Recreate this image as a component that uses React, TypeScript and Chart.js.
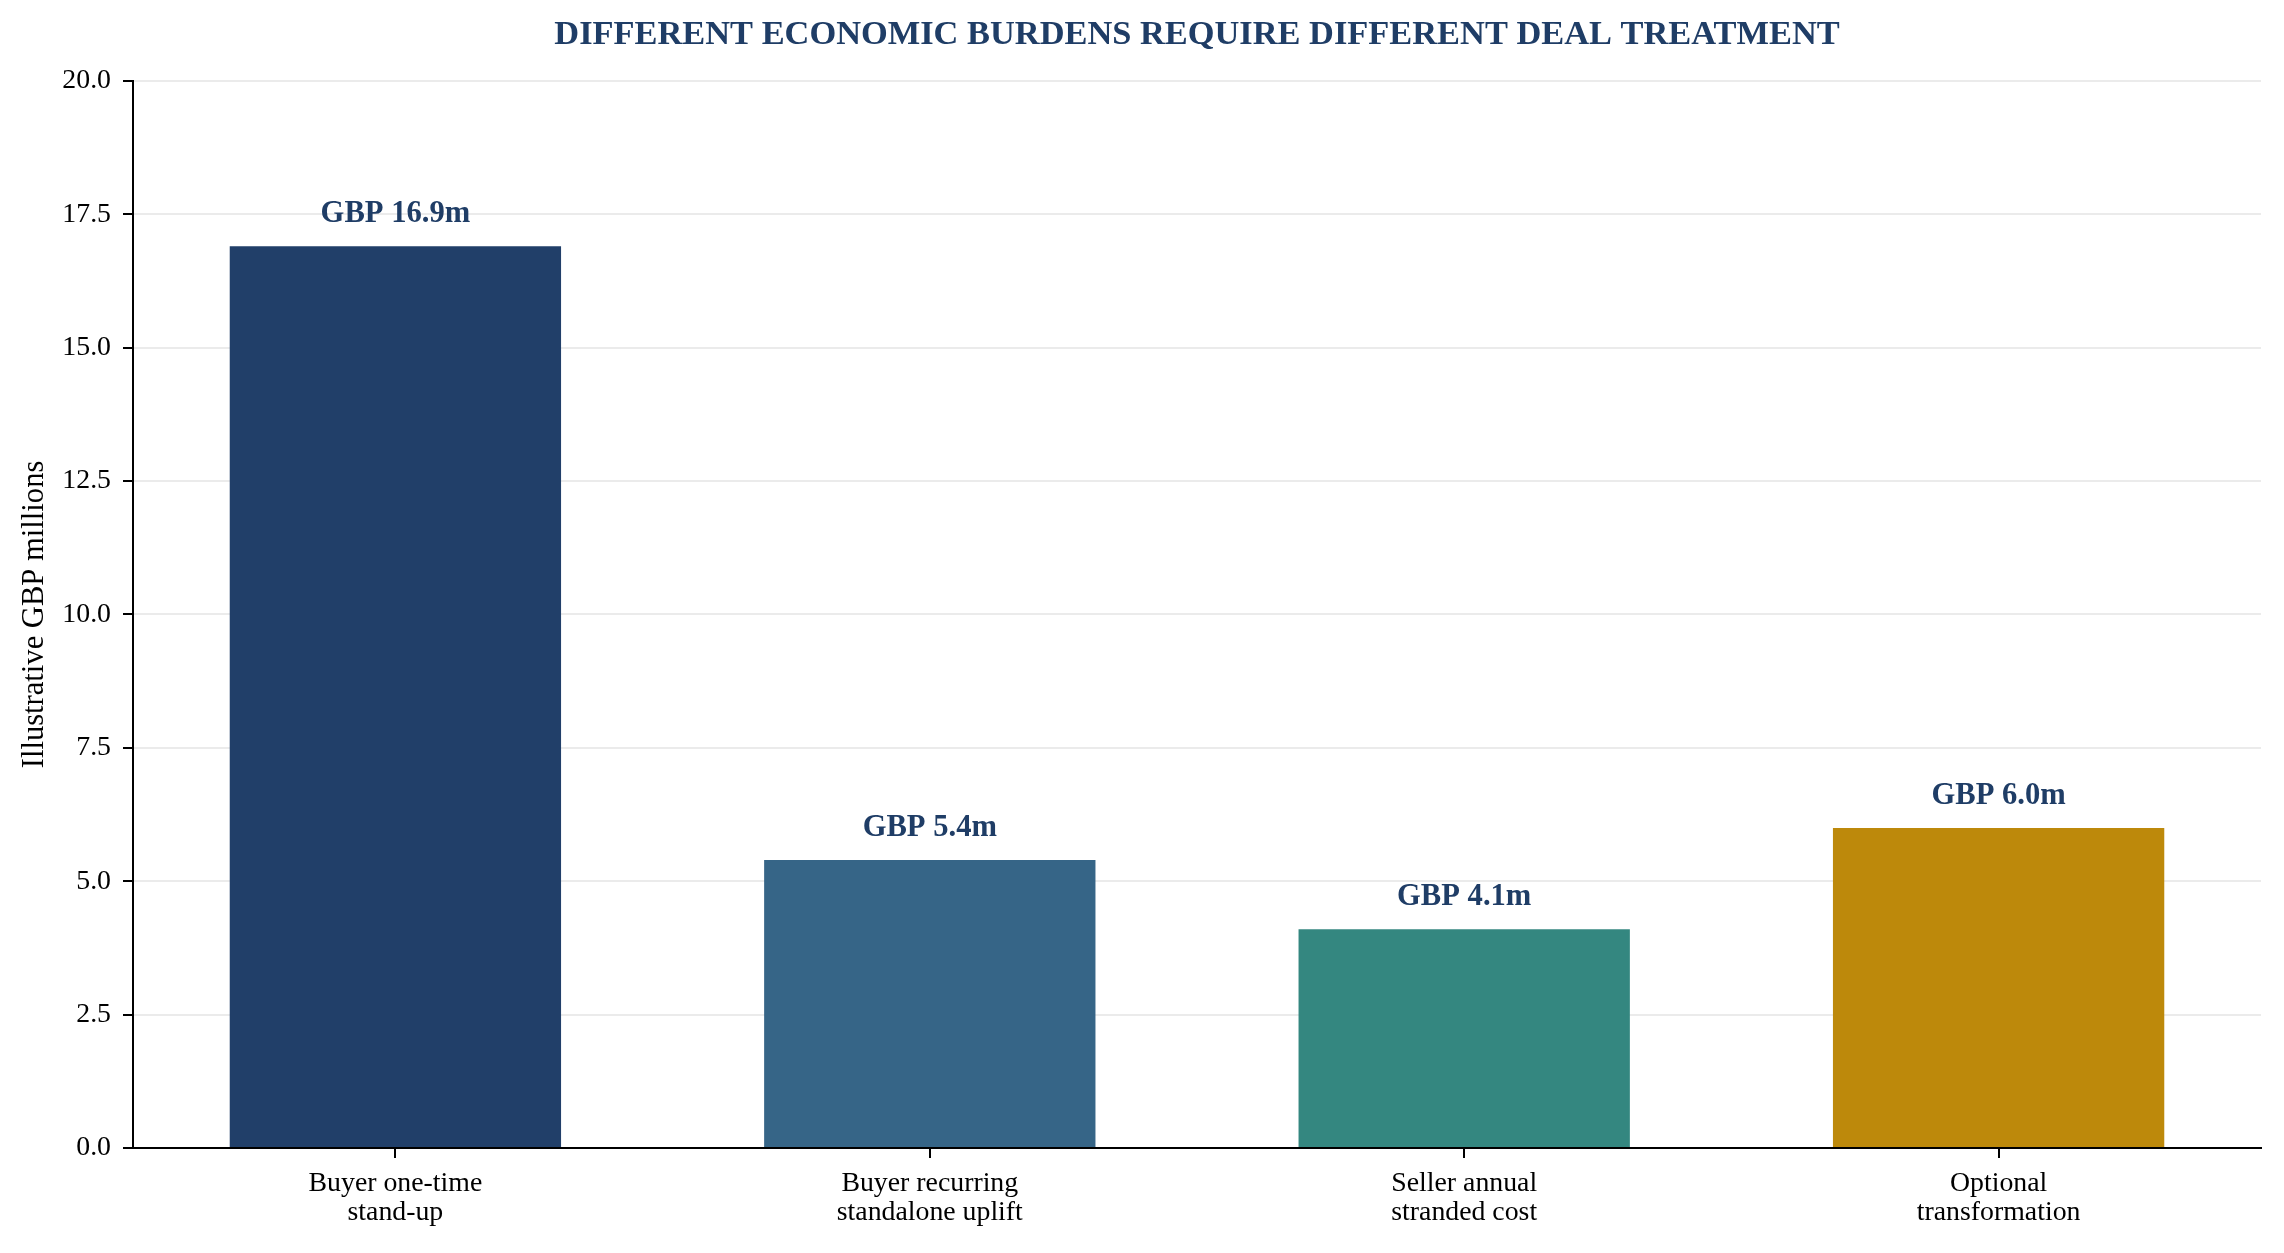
import React, { useEffect, useRef } from "react";
import { Chart, registerables } from "chart.js";

Chart.register(...registerables);

const categories: string[][] = [
  ["Buyer one-time", "stand-up"],
  ["Buyer recurring", "standalone uplift"],
  ["Seller annual", "stranded cost"],
  ["Optional", "transformation"],
];
const values: number[] = [16.9, 5.4, 4.1, 6.0];
const valueLabels: string[] = ["GBP 16.9m", "GBP 5.4m", "GBP 4.1m", "GBP 6.0m"];
const barColors: string[] = ["#213f69", "#366587", "#348780", "#bd890b"];
const yTicks: number[] = [0, 2.5, 5, 7.5, 10, 12.5, 15, 17.5, 20];

const TITLE = "DIFFERENT ECONOMIC BURDENS REQUIRE DIFFERENT DEAL TREATMENT";
const Y_TITLE = "Illustrative GBP millions";
const FONT = "'Liberation Serif', 'Times New Roman', serif";
const NAVY = "#1f3d66";
const BAR_WIDTH = 0.62;
const X_MARGIN = 0.05 * (categories.length - 1 + BAR_WIDTH);

const labelPlugin = {
  id: "valueLabels",
  afterDraw(chart: any) {
    const ctx = chart.ctx;
    const meta = chart.getDatasetMeta(0);
    ctx.save();
    ctx.font = `bold 30.6px ${FONT}`;
    ctx.fillStyle = NAVY;
    ctx.textAlign = "center";
    ctx.textBaseline = "alphabetic";
    meta.data.forEach((bar: any, i: number) => {
      ctx.fillText(valueLabels[i], bar.x, bar.y - 24);
    });
    ctx.restore();
  },
};

export default function App() {
  const ref = useRef<HTMLCanvasElement | null>(null);
  useEffect(() => {
    if (!ref.current) return;
    const chart = new Chart(ref.current, {
      type: "bar",
      data: {
        datasets: [
          {
            data: values.map((v, i) => ({ x: i, y: v })),
            backgroundColor: barColors,
            borderWidth: 0,
            barPercentage: BAR_WIDTH,
            categoryPercentage: 1,
          },
        ],
      },
      options: {
        animation: false,
        responsive: true,
        maintainAspectRatio: false,
        devicePixelRatio: 1,
        layout: { padding: { left: 0, right: 23, top: 0, bottom: 0 } },
        plugins: {
          legend: { display: false },
          tooltip: { enabled: false },
          title: {
            display: true,
            fullSize: false,
            text: TITLE,
            color: NAVY,
            font: { family: FONT, size: 34.4, weight: "bold", lineHeight: 1.2 },
            padding: { top: 14, bottom: 25.7 },
          },
        },
        scales: {
          x: {
            type: "linear",
            min: -0.5 * BAR_WIDTH - X_MARGIN,
            max: categories.length - 1 + 0.5 * BAR_WIDTH + X_MARGIN,
            offset: false,
            z: 2,
            afterBuildTicks(scale: any) {
              scale.ticks = categories.map((_, i) => ({ value: i }));
            },
            grid: {
              display: true,
              offset: false,
              drawOnChartArea: false,
              drawTicks: true,
              tickLength: 10,
              color: "#000",
              lineWidth: 2,
            },
            border: { display: true, color: "#000", width: 2 },
            ticks: {
              color: "#000",
              autoSkip: false,
              maxRotation: 0,
              padding: 11,
              font: { family: FONT, size: 27.8, lineHeight: 1.05 },
              callback: (v: any) => categories[Math.round(Number(v))] ?? "",
            },
            afterFit(scale: any) {
              scale.height = 105;
            },
          },
          y: {
            type: "linear",
            min: 0,
            max: 20,
            z: 1,
            afterBuildTicks(scale: any) {
              scale.ticks = yTicks.map((v) => ({ value: v }));
            },
            grid: {
              color: "rgba(190,190,190,0.3)",
              lineWidth: 2,
              tickColor: "#000",
              tickLength: 10,
              tickWidth: 2,
            },
            border: { display: true, color: "#000", width: 2 },
            ticks: {
              color: "#000",
              padding: 12,
              font: { family: FONT, size: 27.8 },
              callback: (v: any) => Number(v).toFixed(1),
            },
            title: {
              display: true,
              text: Y_TITLE,
              color: "#000",
              font: { family: FONT, size: 30.6, lineHeight: 1.2 },
              padding: { top: 16.5, bottom: 0 },
            },
            afterFit(scale: any) {
              scale.width = 133;
            },
          },
        },
      },
      plugins: [labelPlugin],
    } as any);
    return () => chart.destroy();
  }, []);
  return (
    <div
      style={{
        position: "absolute",
        left: 0,
        top: 0,
        width: "2284px",
        height: "1253px",
        background: "#fff",
      }}
    >
      <canvas ref={ref} />
    </div>
  );
}
